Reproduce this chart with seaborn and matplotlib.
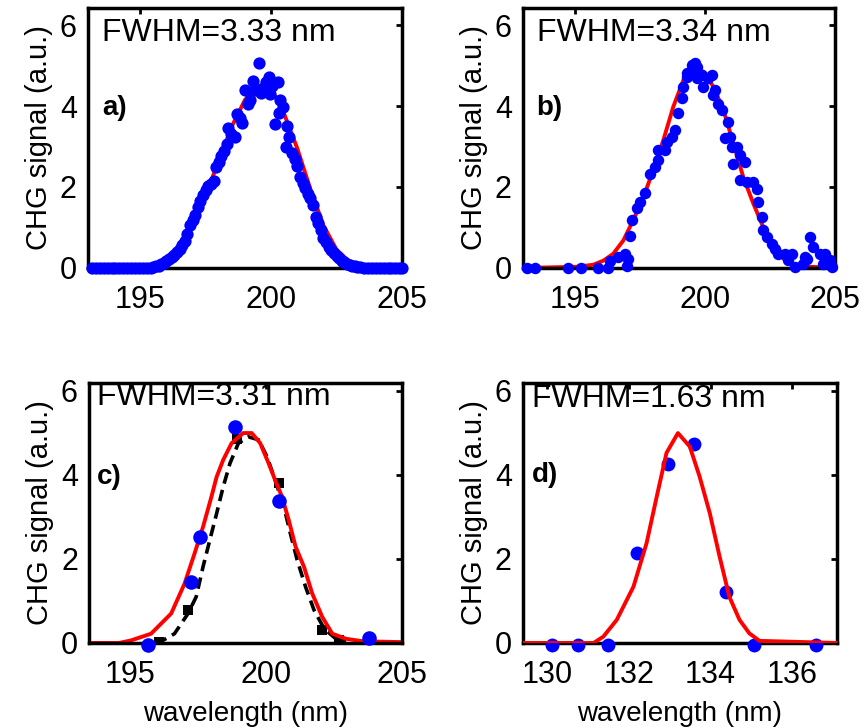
import matplotlib
matplotlib.use("Agg")
import matplotlib.pyplot as plt
import seaborn as sns

sns.set_style("white")
plt.rcParams['font.family'] = ['Liberation Sans', 'DejaVu Sans']
plt.rcParams.update({'text.color': 'black', 'axes.labelcolor': 'black',
                     'xtick.color': 'black', 'ytick.color': 'black'})

# ---- panel a: measured points + fit ----
a_x = [193.15, 193.3, 193.45, 193.6, 193.75, 193.9, 194.05, 194.2, 194.35, 194.5, 194.65, 194.8, 194.95, 195.1, 195.25, 195.4,
       195.5, 195.6, 195.7, 195.8, 195.9, 196.0, 196.1, 196.2, 196.3, 196.4, 196.5, 196.6, 196.7, 196.8, 196.9,
       197.0, 197.1, 197.2, 197.3, 197.4, 197.5, 197.6, 197.7, 197.8, 197.9, 198.0, 198.1, 198.2, 198.3, 198.35,
       198.45, 198.6, 198.7, 198.8, 198.9, 199.0, 199.1, 199.2, 199.3, 199.4, 199.55, 199.6, 199.7, 199.8, 199.9,
       199.95, 200.05, 200.15, 200.25, 200.3, 200.35, 200.45, 200.55, 200.6, 200.7, 200.8, 200.9, 201.0, 201.1,
       201.2, 201.3, 201.4, 201.5, 201.6, 201.7, 201.8, 201.9, 202.0, 202.1, 202.2, 202.3, 202.4, 202.5, 202.6,
       202.7, 202.8, 202.9, 203.0, 203.1, 203.2, 203.3, 203.4, 203.55, 203.7, 203.85, 204.0, 204.15, 204.3,
       204.45, 204.6, 204.75, 204.9, 205.0]
a_y = [0, 0, 0, 0, 0, 0, 0, 0, 0, 0, 0, 0, 0, 0, 0, 0,
       0.02, 0.04, 0.06, 0.09, 0.13, 0.18, 0.23, 0.28, 0.33, 0.40, 0.48, 0.57, 0.66, 0.85, 1.05,
       1.18, 1.30, 1.50, 1.66, 1.80, 1.93, 2.02, 2.08, 2.14, 2.50, 2.62, 2.76, 2.90, 3.05, 3.45,
       3.30, 3.24, 3.80, 3.70, 3.57, 4.40, 4.05, 4.15, 4.62, 4.40, 5.05, 4.32, 4.45, 4.60, 4.72,
       4.30, 4.50, 3.55, 4.60, 3.82, 4.15, 3.98, 2.98, 3.50, 3.24, 2.85, 2.70, 2.52, 2.25,
       2.10, 1.98, 1.82, 1.72, 1.56, 1.25, 1.10, 0.95, 0.75, 0.65, 0.53, 0.45, 0.37, 0.30, 0.24,
       0.18, 0.14, 0.11, 0.08, 0.06, 0.05, 0.03, 0.02, 0, 0, 0, 0, 0, 0,
       0, 0, 0, 0, 0]
fit_a_x = [193.0, 195.0, 195.5, 196.0, 196.5, 197.0, 197.5, 198.0, 198.5, 199.0, 199.5, 200.0, 200.3, 200.5,
           201.0, 201.5, 202.0, 202.5, 203.0, 203.5, 204.0, 205.0]
fit_a_y = [0, 0, 0.05, 0.2, 0.5, 1.05, 1.8, 2.65, 3.5, 4.15, 4.5, 4.4, 4.1, 3.8,
           2.95, 1.95, 1.05, 0.45, 0.15, 0.03, 0, 0]

# ---- panel b ----
b_x = [193.14, 193.46, 194.74, 195.22, 195.9, 196.28, 196.35, 196.67, 196.92, 196.99, 197.05, 197.12, 197.18,
       197.37, 197.50, 197.69, 197.88, 198.08, 198.21, 198.21, 198.46, 198.53, 198.72, 198.85, 198.97, 199.10,
       199.17, 199.30, 199.30, 199.49, 199.49, 199.62, 199.68, 199.68, 199.87, 199.94, 200.13, 200.26, 200.32,
       200.38, 200.51, 200.64, 200.77, 200.90, 200.96, 201.03, 201.09, 201.22, 201.35, 201.35, 201.54, 201.60,
       201.86, 201.99, 202.05, 202.18, 202.24, 202.37, 202.56, 202.69, 202.82, 203.08, 203.21, 203.33, 203.46,
       203.78, 203.85, 203.91, 204.04, 204.17, 204.42, 204.55, 204.62, 204.81, 204.87]
b_y = [0, 0, 0, 0, 0, 0, 0.16, 0.27, 0.35, 0.06, 0.23, 0.80, 1.18,
       1.47, 1.63, 1.84, 2.33, 2.50, 2.66, 2.91, 2.91, 3.11, 3.24, 3.40, 3.82, 4.19,
       4.48, 4.72, 4.81, 4.89, 5.01, 5.05, 4.97, 4.68, 4.76, 4.48, 4.68, 4.76, 4.27,
       4.39, 4.06, 3.90, 3.20, 3.61, 3.24, 2.99, 2.58, 2.99, 2.78, 2.17, 2.62, 2.12,
       2.12, 1.96, 1.63, 1.26, 0.93, 0.76, 0.60, 0.48, 0.35, 0.35, 0.19, 0.35, 0.02,
       0.10, 0.27, 0.23, 0.76, 0.51, 0.35, 0.10, 0.35, 0.19, 0.02]
fit_b_x = [193.0, 195.07, 195.7, 196.09, 196.47, 196.86, 197.24, 197.63, 198.01, 198.40, 198.78, 199.17, 199.55,
           199.94, 200.32, 200.71, 201.09, 201.47, 201.86, 202.24, 202.63, 203.01, 203.50, 204.04, 205.0]
fit_b_y = [0, 0.03, 0.08, 0.18, 0.35, 0.68, 1.18, 1.75, 2.41, 3.16, 3.98, 4.64, 4.89,
           4.85, 4.48, 3.90, 3.08, 2.25, 1.59, 1.01, 0.52, 0.23, 0.06, 0.03, 0]

# ---- panel c ----
c_x = [195.66, 197.23, 197.59, 198.86, 200.47, 203.78]
c_y = [-0.06, 1.44, 2.51, 5.14, 3.37, 0.12]
red_c_x = [193.5, 194.6, 195.04, 195.78, 196.52, 197.01, 197.38, 197.69, 198.0, 198.19, 198.43, 198.74, 199.17,
           199.48, 199.79, 200.10, 200.34, 200.59, 200.84, 201.09, 201.40, 201.70, 202.07, 202.44, 202.94, 203.56,
           205.0]
red_c_y = [0, 0, 0.06, 0.22, 0.70, 1.41, 2.13, 2.76, 3.48, 3.95, 4.35, 4.75, 4.99,
           4.99, 4.75, 4.27, 3.87, 3.48, 2.92, 2.29, 1.81, 1.18, 0.62, 0.22, 0.10, 0.04,
           0.02]
blk_c_x = [195.95, 196.21, 196.64, 197.14, 197.44, 197.69, 197.94, 198.19, 198.43, 198.68, 198.99, 199.36, 199.73,
           200.04, 200.34, 200.66, 200.90, 201.15, 201.46, 201.77, 202.14, 202.57, 202.94]
blk_c_y = [0.0, 0.06, 0.22, 0.70, 1.10, 1.81, 2.45, 3.08, 3.71, 4.27, 4.75, 4.90, 4.83,
           4.43, 3.87, 3.24, 2.60, 1.97, 1.33, 0.78, 0.34, 0.10, 0.02]
sq_c_x = [196.09, 197.14, 198.95, 200.47, 202.07, 202.69, 203.74]
sq_c_y = [0.02, 0.78, 4.85, 3.80, 0.30, 0.06, -0.05]

# ---- panel d ----
d_x = [130.11, 130.76, 131.49, 132.2, 132.95, 133.6, 134.39, 135.07, 136.58]
d_y = [-0.05, -0.05, -0.05, 2.14, 4.26, 4.74, 1.21, -0.05, -0.05]
fit_d_x = [129.4, 131.13, 131.37, 131.70, 132.11, 132.43, 132.68, 132.92, 133.20, 133.49, 133.73, 133.98,
           134.22, 134.46, 134.71, 134.95, 135.20, 137.1]
fit_d_y = [0, 0, 0.15, 0.55, 1.34, 2.37, 3.48, 4.52, 4.99, 4.67, 3.96, 3.09,
           2.06, 1.10, 0.55, 0.23, 0.05, 0]


def style_ax(ax, xlim, ylim, xticks, fwhm, fpos, tag, tpos, xlabel=None):
    ax.set_xlim(xlim)
    ax.set_ylim(ylim)
    ax.set_xticks(xticks)
    ax.set_yticks([0, 2, 4, 6])
    ax.tick_params(direction='in', length=4, width=2, top=True, right=True,
                   labelsize=22, colors='black')
    ax.tick_params(axis='x', pad=12)
    ax.tick_params(axis='y', pad=8)
    for s in ax.spines.values():
        s.set_visible(True)
        s.set_linewidth(2.5)
        s.set_color('black')
    ax.set_ylabel("CHG signal (a.u.)", fontsize=21, labelpad=5)
    ax.set_xlabel(xlabel if xlabel else "", fontsize=20, labelpad=8)
    ax.text(fpos[0], fpos[1], fwhm, transform=ax.transAxes, fontsize=23,
            ha='left', va='center')
    ax.text(tpos[0], tpos[1], tag, transform=ax.transAxes, fontsize=20,
            fontweight='bold', ha='left', va='center')


fig = plt.figure(figsize=(8.65, 7.28), dpi=100)
ax_a = fig.add_axes([0.1017, 0.6319, 0.3630, 0.3571])
ax_b = fig.add_axes([0.6046, 0.6319, 0.3607, 0.3571])
ax_c = fig.add_axes([0.1029, 0.1168, 0.3618, 0.3571])
ax_d = fig.add_axes([0.6046, 0.1168, 0.3630, 0.3571])

line_kw = dict(color='red', linewidth=2.8, sort=False, estimator=None)
dot_kw = dict(color='blue', linewidth=0, zorder=4, clip_on=False)

# a)
sns.lineplot(x=fit_a_x, y=fit_a_y, ax=ax_a, **line_kw)
sns.scatterplot(x=a_x, y=a_y, ax=ax_a, s=78, **dot_kw)
style_ax(ax_a, (193, 205), (0, 6.42), [195, 200, 205], "FWHM=3.33 nm", (0.045, 0.905), "a)", (0.045, 0.615))

# b)
sns.lineplot(x=fit_b_x, y=fit_b_y, ax=ax_b, **line_kw)
sns.scatterplot(x=b_x, y=b_y, ax=ax_b, s=68, **dot_kw)
style_ax(ax_b, (193, 205), (0, 6.42), [195, 200, 205], "FWHM=3.34 nm", (0.044, 0.905), "b)", (0.044, 0.615))

# c)
sns.lineplot(x=blk_c_x, y=blk_c_y, ax=ax_c, color='black', linewidth=2.6,
             linestyle=(0, (3.2, 1.8)), sort=False, estimator=None)
sns.scatterplot(x=sq_c_x, y=sq_c_y, ax=ax_c, marker='s', color='black', s=45, linewidth=0, zorder=2)
sns.lineplot(x=red_c_x, y=red_c_y, ax=ax_c, **line_kw)
sns.scatterplot(x=c_x, y=c_y, ax=ax_c, s=110, **dot_kw)
style_ax(ax_c, (193.5, 205), (0, 6.18), [195, 200, 205], "FWHM=3.31 nm", (0.025, 0.945), "c)", (0.025, 0.64),
         xlabel="wavelength (nm)")

# d)
sns.scatterplot(x=d_x, y=d_y, ax=ax_d, s=100, **dot_kw)
sns.lineplot(x=fit_d_x, y=fit_d_y, ax=ax_d, zorder=5, **line_kw)
style_ax(ax_d, (129.4, 137.1), (0, 6.18), [130, 132, 134, 136], "FWHM=1.63 nm", (0.028, 0.94), "d)", (0.028, 0.645),
         xlabel="wavelength (nm)")

fig.savefig("out.png", dpi=100)
